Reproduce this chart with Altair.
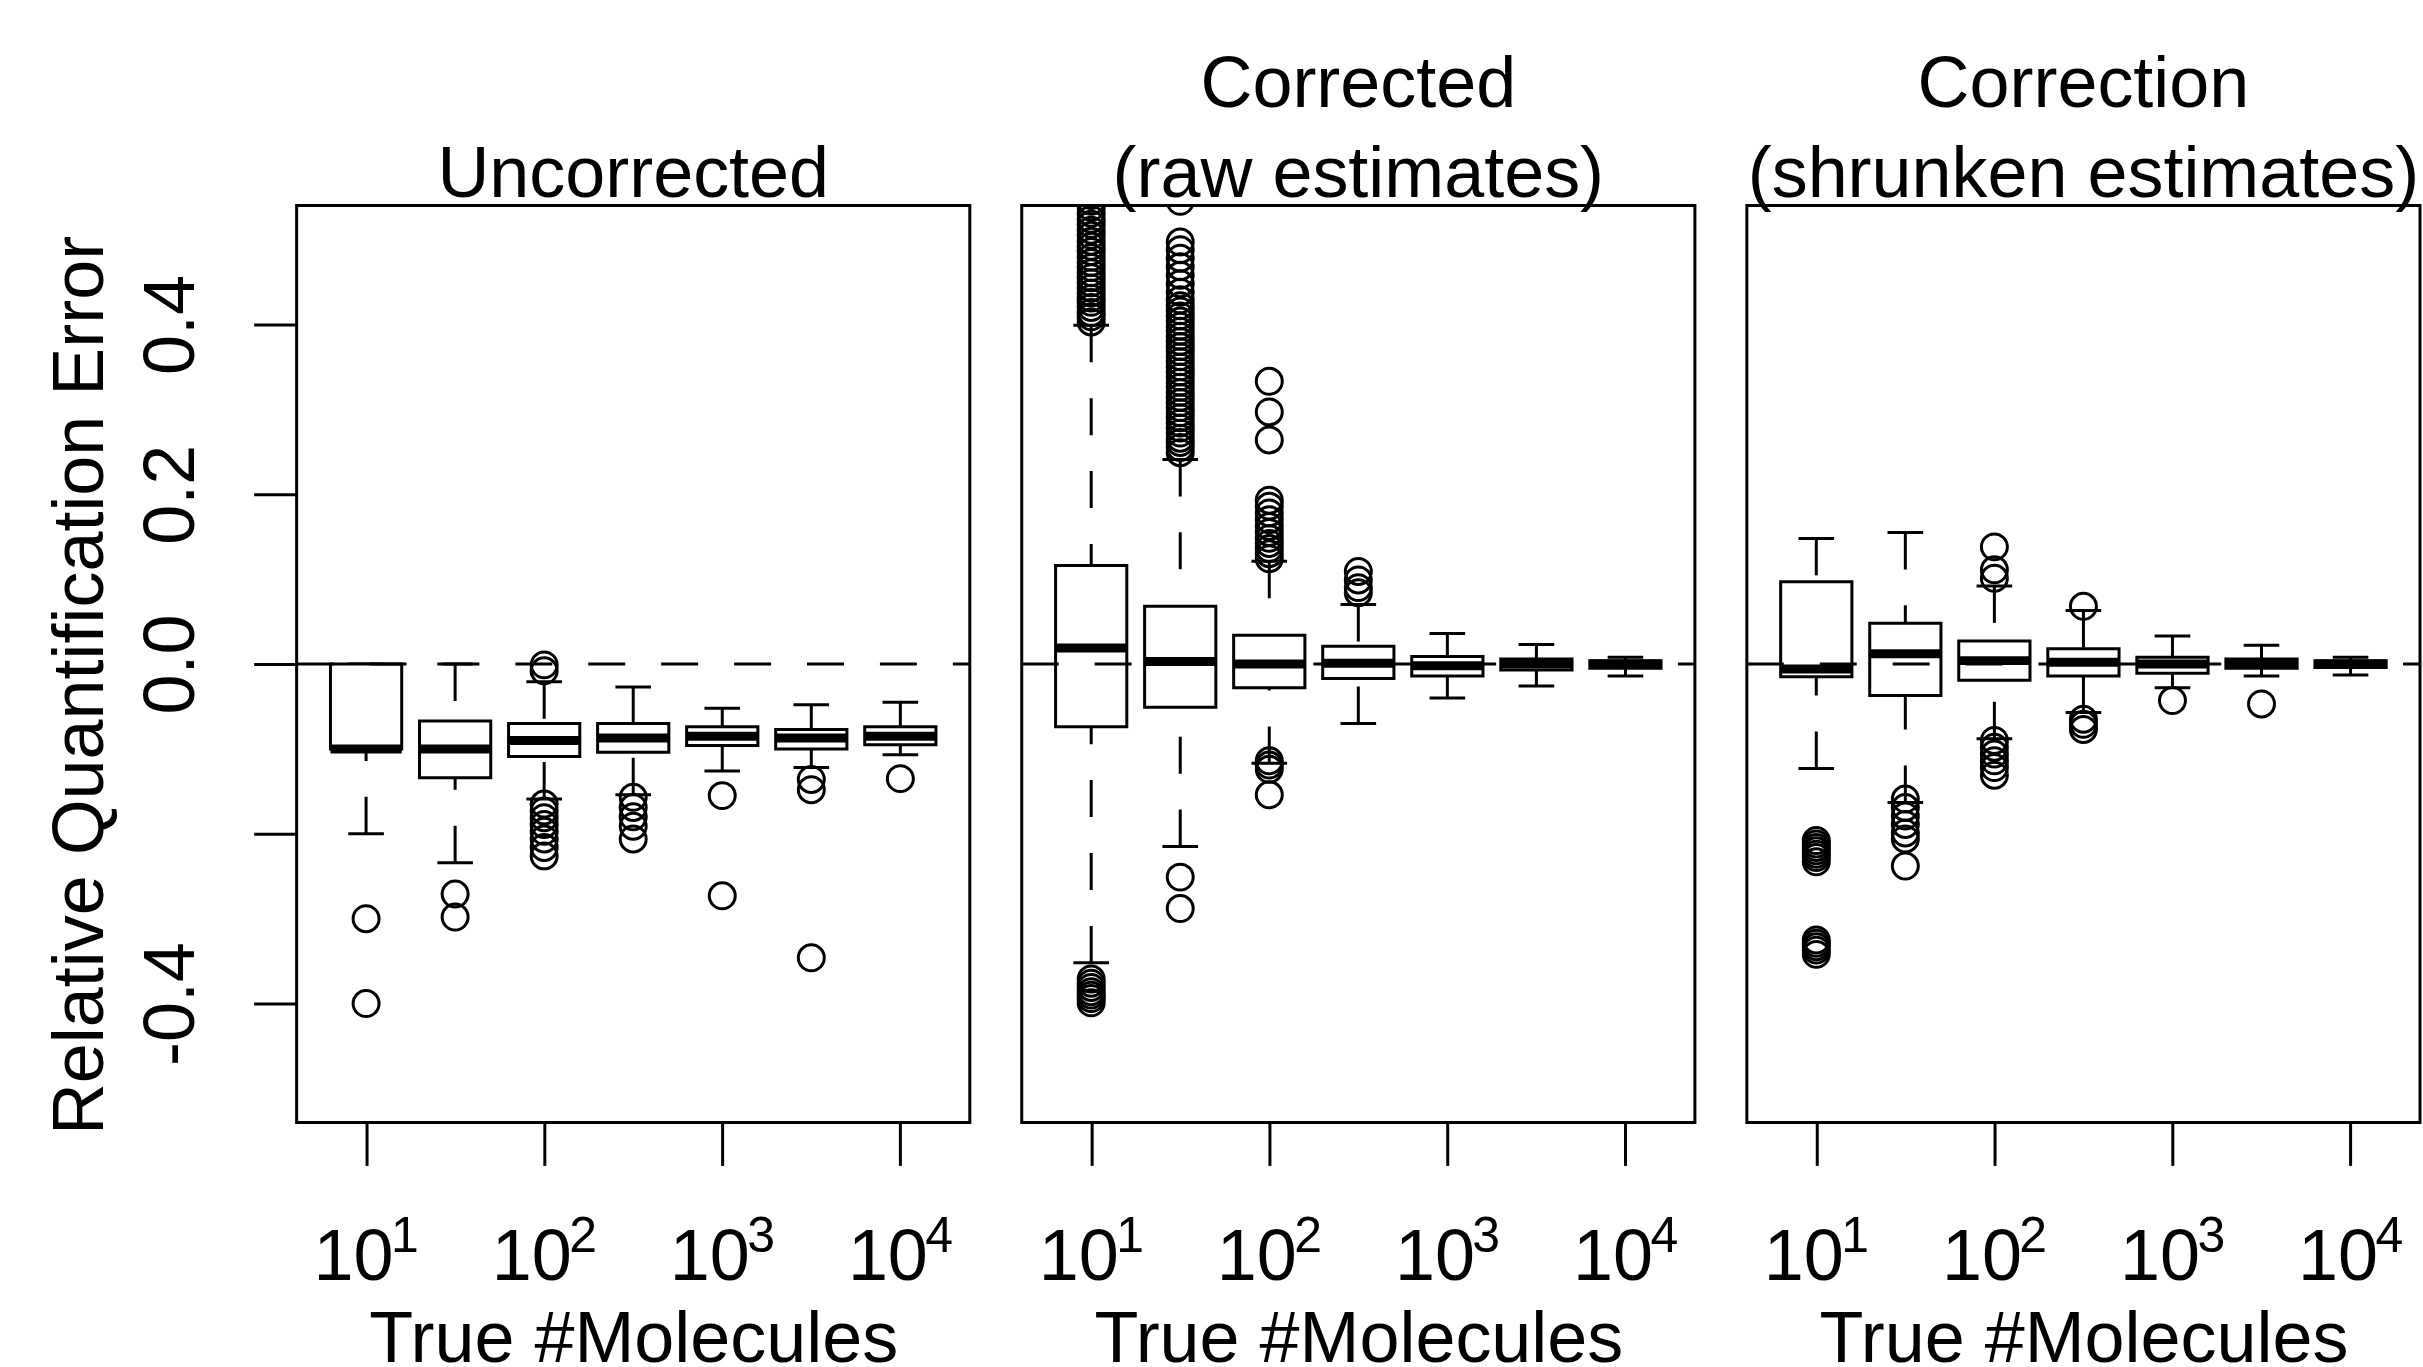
import altair as alt
import pandas as pd

# ---------------- data ----------------
LOG10_TRUE_MOLECULES = [1.0, 1.5, 2.0, 2.5, 3.0, 3.5, 4.0]
X_TICKS = [1, 2, 3, 4]
X_TICK_BASE = "10"
X_TICK_EXPONENTS = ["1", "2", "3", "4"]
Y_TICKS = [-0.4, -0.2, 0.0, 0.2, 0.4]

PANEL_TITLES = [["Uncorrected"], ["Corrected", "(raw estimates)"], ["Correction", "(shrunken estimates)"]]

# Panel 1: Uncorrected
UNC_LOWER = [-0.200, -0.234, -0.159, -0.154, -0.126, -0.122, -0.107]
UNC_Q1 = [-0.100, -0.134, -0.109, -0.104, -0.096, -0.100, -0.095]
UNC_MEDIAN = [-0.100, -0.100, -0.090, -0.087, -0.085, -0.087, -0.085]
UNC_Q3 = [0.000, -0.067, -0.070, -0.070, -0.074, -0.077, -0.074]
UNC_UPPER = [0.000, 0.000, -0.021, -0.027, -0.052, -0.048, -0.045]
UNC_OUTLIERS = [
    [-0.300, -0.400],
    [-0.271, -0.298],
    [-0.001, -0.008, -0.165, -0.173, -0.181, -0.189, -0.197, -0.206, -0.216, -0.226],
    [-0.157, -0.169, -0.180, -0.191, -0.206],
    [-0.155, -0.273],
    [-0.136, -0.148, -0.346],
    [-0.135],
]

# Panel 2: Corrected (raw estimates)
RAW_LOWER = [-0.352, -0.215, -0.117, -0.070, -0.040, -0.026, -0.014]
RAW_Q1 = [-0.074, -0.051, -0.028, -0.017, -0.014, -0.007, -0.005]
RAW_MEDIAN = [0.019, 0.003, 0.000, 0.001, -0.002, 0.000, 0.000]
RAW_Q3 = [0.116, 0.068, 0.034, 0.021, 0.009, 0.006, 0.004]
RAW_UPPER = [0.399, 0.241, 0.121, 0.070, 0.036, 0.023, 0.008]
RAW_OUTLIERS = [
    [0.403, 0.409, 0.414, 0.420, 0.426, 0.431, 0.437, 0.443, 0.449, 0.455, 0.461,
     0.467, 0.473, 0.479, 0.486, 0.492, 0.498, 0.505, 0.511, 0.518, 0.524, 0.531,
     0.538, 0.545, 0.552, 0.560, 0.575, 0.600,
     -0.371, -0.376, -0.381, -0.386, -0.390, -0.394, -0.399],
    [0.249, 0.255, 0.261, 0.266, 0.272, 0.278, 0.284, 0.290, 0.296, 0.302, 0.308,
     0.314, 0.320, 0.326, 0.332, 0.338, 0.344, 0.350, 0.356, 0.362, 0.368, 0.374,
     0.380, 0.386, 0.392, 0.398, 0.404, 0.410, 0.416, 0.422, 0.429, 0.438, 0.448,
     0.458, 0.468, 0.478, 0.488, 0.497, 0.545,
     -0.251, -0.288],
    [0.124, 0.130, 0.136, 0.142, 0.148, 0.155, 0.162, 0.170, 0.178, 0.186, 0.193,
     0.264, 0.297, 0.333,
     -0.114, -0.119, -0.124, -0.154],
    [0.084, 0.090, 0.099, 0.109],
    [],
    [],
    [],
]

# Panel 3: Correction (shrunken estimates)
SHR_LOWER = [-0.123, -0.163, -0.088, -0.057, -0.028, -0.014, -0.013]
SHR_Q1 = [-0.015, -0.037, -0.019, -0.014, -0.011, -0.005, -0.004]
SHR_MEDIAN = [-0.006, 0.012, 0.004, 0.002, 0.000, 0.000, 0.000]
SHR_Q3 = [0.097, 0.048, 0.027, 0.018, 0.008, 0.006, 0.004]
SHR_UPPER = [0.148, 0.155, 0.092, 0.063, 0.033, 0.022, 0.008]
SHR_OUTLIERS = [
    [-0.208, -0.212, -0.216, -0.220, -0.224, -0.228, -0.233,
     -0.325, -0.329, -0.333, -0.337, -0.342],
    [-0.159, -0.169, -0.179, -0.189, -0.199, -0.206, -0.238],
    [0.101, 0.111, 0.138, -0.090, -0.098, -0.106, -0.114, -0.122, -0.131],
    [0.068, -0.065, -0.071, -0.077],
    [-0.043],
    [-0.047],
    [],
]

# ---------------- styling ----------------
FONT = "Liberation Sans"
W, H = 674, 918
XS = alt.Scale(domain=[0.61, 4.39], nice=False, zero=False)
YS = alt.Scale(domain=[-0.54, 0.54], nice=False, zero=False)
DASH = [37, 36]
LW = 3

Y_LABEL_EXPR = (
    "datum.value > 0.3 ? '0.4' : datum.value > 0.1 ? '0.2' : "
    "datum.value > -0.1 ? '0.0' : datum.value > -0.3 ? '' : '-0.4'"
)

X_AXIS = alt.Axis(
    values=X_TICKS, labelExpr=f"'{X_TICK_BASE}'", grid=False, domain=False,
    tickSize=43, tickWidth=LW, tickColor="black",
    labelFont=FONT, labelFontSize=72, labelColor="black",
    labelBaseline="alphabetic", labelPadding=114, labelOffset=-13,
    labelOverlap=False, labelFlush=False, labelBound=False,
    title="True #Molecules", titleFont=FONT, titleFontSize=72,
    titleFontWeight="normal", titleColor="black",
    titleX=W / 2, titleY=239, titleAlign="center", titleBaseline="alphabetic",
)
Y_AXIS = alt.Axis(
    values=Y_TICKS, labelExpr=Y_LABEL_EXPR, grid=False, domain=False,
    tickSize=43, tickWidth=LW, tickColor="black",
    labelFont=FONT, labelFontSize=72, labelColor="black",
    labelAngle=270, labelAlign="center", labelBaseline="alphabetic",
    labelPadding=60, labelOverlap=False, labelFlush=False, labelBound=False,
    title="Relative Quantification Error", titleFont=FONT, titleFontSize=72,
    titleFontWeight="normal", titleColor="black", titleAngle=270,
    titleAlign="center", titleBaseline="alphabetic", titleX=-194, titleY=480,
)


def box_frame(lower, q1, med, q3, upper):
    return pd.DataFrame({"pos": LOG10_TRUE_MOLECULES, "lower": lower, "q1": q1,
                         "median": med, "q3": q3, "upper": upper})


def outlier_frame(outliers):
    rows = [(p, v) for p, vals in zip(LOG10_TRUE_MOLECULES, outliers) for v in vals]
    return pd.DataFrame(rows, columns=["pos", "value"])


def panel(title_lines, box_df, out_df, show_y):
    y_axis = Y_AXIS if show_y else None

    def xq(field):
        return alt.X(f"{field}:Q", scale=XS, axis=X_AXIS)

    def yq(field):
        return alt.Y(f"{field}:Q", scale=YS, axis=y_axis)

    base = alt.Chart(box_df).transform_calculate(
        box_left="datum.pos - 0.2", box_right="datum.pos + 0.2",
        cap_left="datum.pos - 0.1", cap_right="datum.pos + 0.1",
    )
    lower_whisker = base.mark_rule(color="black", strokeWidth=LW, strokeDash=DASH).encode(
        x=xq("pos"), y=yq("lower"), y2=alt.Y2("q1:Q"))
    upper_whisker = base.mark_rule(color="black", strokeWidth=LW, strokeDash=DASH).encode(
        x=xq("pos"), y=yq("upper"), y2=alt.Y2("q3:Q"))
    lower_staple = base.mark_rule(color="black", strokeWidth=LW).encode(
        x=xq("cap_left"), x2=alt.X2("cap_right:Q"), y=yq("lower"))
    upper_staple = base.mark_rule(color="black", strokeWidth=LW).encode(
        x=xq("cap_left"), x2=alt.X2("cap_right:Q"), y=yq("upper"))
    boxes = base.mark_rect(fill="white", stroke="black", strokeWidth=LW).encode(
        x=xq("box_left"), x2=alt.X2("box_right:Q"), y=yq("q1"), y2=alt.Y2("q3:Q"))
    medians = base.mark_rule(color="black", strokeWidth=9, strokeCap="butt").encode(
        x=xq("box_left"), x2=alt.X2("box_right:Q"), y=yq("median"))
    outliers = alt.Chart(out_df).mark_point(
        shape="circle", filled=False, size=676, strokeWidth=LW, color="black",
        opacity=1, clip=True).encode(x=xq("pos"), y=yq("value"))
    zero_line = alt.Chart(pd.DataFrame({"ref": [0.0]})).mark_rule(
        color="black", strokeWidth=LW, strokeDash=DASH).encode(
        x=alt.value(0), x2=alt.value(W), y=yq("ref"))
    # superscript exponents of the 10^k tick labels
    exponents = alt.Chart(pd.DataFrame({"tick": X_TICKS, "exp": X_TICK_EXPONENTS})).mark_text(
        font=FONT, fontSize=50, color="black", align="left", baseline="alphabetic", dx=25,
    ).encode(x=xq("tick"), y=alt.value(H + 130), text="exp:N")

    return alt.layer(
        lower_whisker, upper_whisker, lower_staple, upper_staple,
        boxes, medians, outliers, zero_line, exponents,
    ).properties(
        width=W, height=H,
        title=alt.TitleParams(
            text=title_lines, font=FONT, fontSize=72, fontWeight="normal",
            color="black", anchor="middle", baseline="bottom", lineHeight=90,
            offset=-2, dy=76,
        ),
    )


p1 = panel(PANEL_TITLES[0], box_frame(UNC_LOWER, UNC_Q1, UNC_MEDIAN, UNC_Q3, UNC_UPPER),
           outlier_frame(UNC_OUTLIERS), True)
p2 = panel(PANEL_TITLES[1], box_frame(RAW_LOWER, RAW_Q1, RAW_MEDIAN, RAW_Q3, RAW_UPPER),
           outlier_frame(RAW_OUTLIERS), False)
p3 = panel(PANEL_TITLES[2], box_frame(SHR_LOWER, SHR_Q1, SHR_MEDIAN, SHR_Q3, SHR_UPPER),
           outlier_frame(SHR_OUTLIERS), False)

chart = alt.hconcat(p1, p2, p3, spacing=52, bounds="flush").properties(
    padding={"left": 43, "top": 46, "right": 0, "bottom": -10},
    background="white",
).configure_view(stroke="black", strokeWidth=LW)

chart.save("out.html", embed_options={"renderer": "svg", "actions": False})
